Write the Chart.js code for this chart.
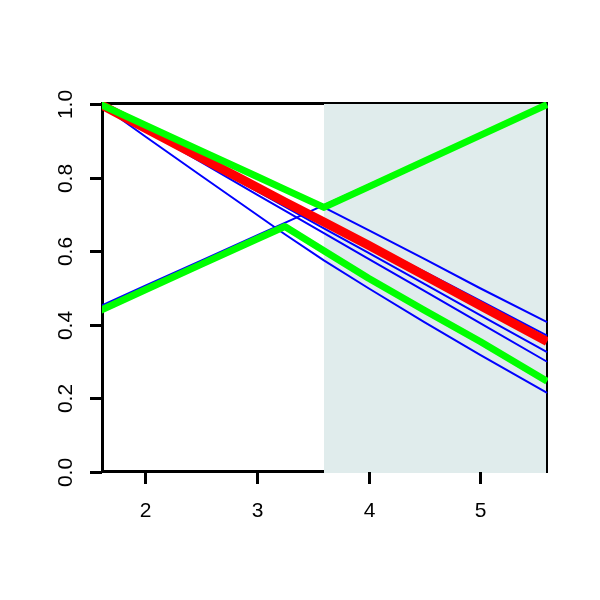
<!DOCTYPE html>
<html>
<head>
<meta charset="utf-8">
<script src="https://cdn.jsdelivr.net/npm/chart.js@4/dist/chart.umd.min.js"></script>
<style>
  body { margin: 0; background: #fff; }
  #plot { display: block; }
</style>
</head>
<body>
<canvas id="plot" width="600" height="600"></canvas>
<script>
// sample positions along x (shared by every curve)
var xs = [1.6, 2.0, 2.5, 3.0, 3.25, 3.6, 4.0, 4.5, 5.0, 5.6];

// blue curves
var blueUp    = [0.452, 0.507, 0.575, 0.644, 0.678, 0.726, 0.781, 0.849, 0.918, 1.0];
var blueTop   = [1.0, 0.944, 0.874, 0.804, 0.769, 0.720, 0.658, 0.580, 0.500, 0.408];
var blueA     = [1.0, 0.937, 0.859, 0.780, 0.741, 0.686, 0.623, 0.545, 0.466, 0.371];
var blueB     = [1.0, 0.933, 0.848, 0.764, 0.722, 0.663, 0.596, 0.512, 0.427, 0.326];
var blueC     = [1.0, 0.930, 0.843, 0.755, 0.711, 0.650, 0.580, 0.493, 0.405, 0.300];
var blueLow   = [1.0, 0.913, 0.806, 0.700, 0.647, 0.576, 0.500, 0.408, 0.319, 0.215];
// red curve
var redMid    = [1.0, 0.935, 0.855, 0.775, 0.735, 0.680, 0.617, 0.535, 0.453, 0.355];
// green curves (they switch branch at the crossings)
var greenHigh = [1.0, 0.944, 0.874, 0.804, 0.769, 0.720, 0.776, 0.846, 0.916, 1.0];
var greenLow  = [0.440, 0.496, 0.565, 0.634, 0.668, 0.602, 0.527, 0.440, 0.355, 0.247];

var xTicks = [2, 3, 4, 5];
var yTicks = [0, 0.2, 0.4, 0.6, 0.8, 1.0];
var shadeFrom = 3.6;

function pts(ys) {
    return xs.map(function (x, i) { return {x: x, y: ys[i]}; });
}
function line(ys, color, width, order) {
    return {
        data: pts(ys), borderColor: color, borderWidth: width,
        pointRadius: 0, tension: 0, fill: false, order: order,
        clip: 0, borderCapStyle: 'butt', borderJoinStyle: 'round'
    };
}

var shade = {
    id: 'shade',
    beforeDatasetsDraw: function (chart) {
        var c = chart.ctx, a = chart.chartArea, sx = chart.scales.x;
        var x0 = Math.round(sx.getPixelForValue(shadeFrom));
        c.save();
        c.strokeStyle = '#000';
        c.lineWidth = 3;
        c.beginPath();
        c.moveTo(a.right, a.top + 1.5);
        c.lineTo(a.left + 0.5, a.top + 1.5);
        c.lineTo(a.left + 0.5, a.bottom - 0.5);
        c.lineTo(a.right, a.bottom - 0.5);
        c.stroke();
        c.lineWidth = 2;
        c.beginPath();
        c.moveTo(a.right - 1, a.top);
        c.lineTo(a.right - 1, a.bottom + 1);
        c.stroke();
        c.fillStyle = '#e0ecec';
        c.fillRect(x0, a.top + 2, a.right - 2 - x0, a.bottom - a.top - 1);
        c.restore();
    },
    afterDraw: function (chart) {
        var c = chart.ctx, a = chart.chartArea;
        var sx = chart.scales.x, sy = chart.scales.y;
        c.save();
        c.strokeStyle = '#000';
        c.fillStyle = '#000';
        c.lineWidth = 3;
        c.font = '21px "Liberation Sans", Arial, sans-serif';
        c.textAlign = 'center';
        c.textBaseline = 'middle';
        xTicks.forEach(function (v) {
            var px = Math.round(sx.getPixelForValue(v)) + 0.5;
            c.beginPath();
            c.moveTo(px, a.bottom);
            c.lineTo(px, a.bottom + 12);
            c.stroke();
            c.fillText(String(v), px, a.bottom + 39);
        });
        yTicks.forEach(function (v) {
            var py = Math.round(sy.getPixelForValue(v)) + 0.5;
            c.beginPath();
            c.moveTo(a.left - 12, py);
            c.lineTo(a.left, py);
            c.stroke();
            c.save();
            c.translate(a.left - 36, py);
            c.rotate(-Math.PI / 2);
            c.fillText(v.toFixed(1), 0, 0);
            c.restore();
        });
        c.restore();
    }
};

new Chart(document.getElementById('plot'), {
    type: 'line',
    data: {
        datasets: [
            line(greenHigh, '#00ff00', 7, 0),
            line(greenLow, '#00ff00', 7, 1),
            line(redMid, '#ff0000', 9, 2),
            line(blueUp, '#0000ff', 2, 3),
            line(blueTop, '#0000ff', 2, 4),
            line(blueA, '#0000ff', 2, 5),
            line(blueB, '#0000ff', 2, 6),
            line(blueC, '#0000ff', 2, 7),
            line(blueLow, '#0000ff', 2, 8)
        ]
    },
    options: {
        responsive: false,
        animation: false,
        devicePixelRatio: 1,
        layout: { padding: { left: 102, right: 52, top: 102, bottom: 128 } },
        plugins: { legend: { display: false }, tooltip: { enabled: false } },
        scales: {
            x: { type: 'linear', min: 1.612, max: 5.608, display: false },
            y: { type: 'linear', min: 0, max: 1.0068, display: false }
        }
    },
    plugins: [shade]
});
</script>
</body>
</html>
